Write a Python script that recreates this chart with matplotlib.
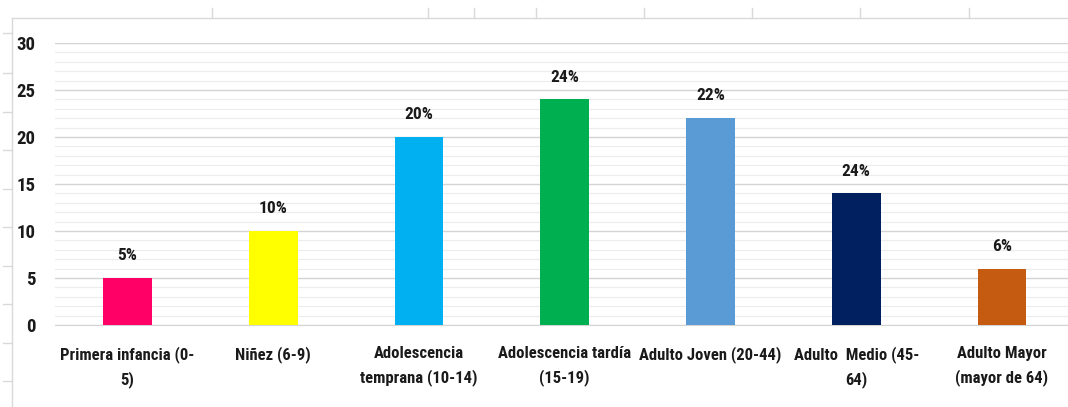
import matplotlib
matplotlib.use("Agg")
import matplotlib.pyplot as plt
from matplotlib.lines import Line2D
from matplotlib.ticker import MultipleLocator

categories = [
    "Primera infancia (0-\n5)",
    "Niñez (6-9)",
    "Adolescencia\ntemprana (10-14)",
    "Adolescencia tardía\n(15-19)",
    "Adulto Joven (20-44)",
    "Adulto  Medio (45-\n64)",
    "Adulto Mayor\n(mayor de 64)",
]
values = [5, 10, 20, 24, 22, 14, 6]
value_labels = ["5%", "10%", "20%", "24%", "22%", "24%", "6%"]
colors = ["#FF0066", "#FFFF00", "#00B0F0", "#00B050",
          "#5B9BD5", "#002060", "#C55A11"]

plt.rcParams["font.family"] = ["Roboto Condensed", "Carlito", "DejaVu Sans"]
plt.rcParams["font.weight"] = "bold"

W, H = 1068, 407
fig = plt.figure(figsize=(W / 100, H / 100), dpi=100)

# axes placed in pixel terms of the reference
left, right, bottom, top = 54.6, 1068, 325, 43
ax = fig.add_axes([left / W, 1 - bottom / H, (right - left) / W, (bottom - top) / H])

x = range(len(categories))
ax.bar(x, values, width=0.335, color=colors, zorder=3)

for xi, v, lab in zip(x, values, value_labels):
    ax.annotate(lab, (xi, v), xytext=(0, 16), textcoords="offset points",
                ha="center", va="center", fontsize=12.5, color="#1a1a1a",
                fontweight="bold")

ax.set_xlim(-0.5, -0.5 + (right - left) / 145.75)
ax.set_ylim(0, 30)
ax.yaxis.set_major_locator(MultipleLocator(5))
ax.yaxis.set_minor_locator(MultipleLocator(1))
ax.grid(axis="y", which="major", color="#d4d4d4", lw=1.0, zorder=0)
ax.grid(axis="y", which="minor", color="#ececec", lw=0.8, zorder=0)
ax.set_axisbelow(True)

ax.set_xticks(list(x))
ax.set_xticklabels(categories, fontsize=12, color="#1a1a1a",
                   multialignment="center", linespacing=1.6)
ax.tick_params(axis="x", length=0, pad=15)
ax.tick_params(axis="y", which="both", length=0, pad=14,
               labelsize=13.5, labelcolor="#1a1a1a")

for s in ["top", "right", "left"]:
    ax.spines[s].set_visible(False)
ax.spines["bottom"].set_color("#d4d4d4")
ax.spines["bottom"].set_zorder(1)


def px_line(x0, y0, x1, y1, color="#d9d9d9", lw=1.0):
    fig.add_artist(Line2D([x0 / W, x1 / W], [1 - y0 / H, 1 - y1 / H],
                          transform=fig.transFigure, color=color, lw=lw))


# spreadsheet frame around the chart
px_line(12, 18, W, 18)
px_line(12, 18, 12, H)
for xt in [212, 428, 474, 536, 644, 752, 860, 969]:
    px_line(xt, 8, xt, 18)
for yt in [33, 73, 112, 150, 189, 227, 266, 304, 343, 381]:
    px_line(3, yt, 12, yt)

fig.savefig("out.png", dpi=100)
